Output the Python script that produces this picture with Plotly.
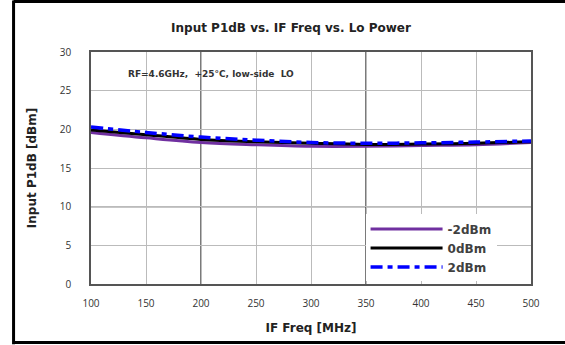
import plotly.graph_objects as go

if_freq = [100, 150, 200, 250, 300, 350, 400, 450, 500]
p1db_m2 = [19.6, 18.9, 18.3, 18.0, 17.8, 17.8, 17.9, 18.0, 18.3]
p1db_0 = [19.9, 19.3, 18.7, 18.4, 18.2, 18.05, 18.1, 18.2, 18.4]
p1db_2 = [20.3, 19.6, 19.0, 18.6, 18.3, 18.2, 18.25, 18.35, 18.5]
series_names = ["-2dBm", "0dBm", "2dBm"]
x_ticks = [100, 150, 200, 250, 300, 350, 400, 450, 500]
y_ticks = [0, 5, 10, 15, 20, 25, 30]
dark_x_grid = [200, 350]
dark_y_grid = [10]

fig = go.Figure()
fig.add_trace(go.Scatter(x=if_freq, y=p1db_m2, name="<b>" + series_names[0] + "</b>", mode="lines",
                         line=dict(color="#7030A0", width=3, shape="spline")))
fig.add_trace(go.Scatter(x=if_freq, y=p1db_0, name="<b>" + series_names[1] + "</b>", mode="lines",
                         line=dict(color="#000000", width=3, shape="spline")))
fig.add_trace(go.Scatter(x=if_freq, y=p1db_2, name="<b>" + series_names[2] + "</b>", mode="lines",
                         line=dict(color="#0000FF", width=3.5, dash="12px,5px,5px,5px", shape="spline")))

for xv in dark_x_grid:
    fig.add_shape(type="line", xref="x", yref="paper", x0=xv, x1=xv, y0=0, y1=1,
                  line=dict(color="#222222", width=1.2), layer="below")
for yv in dark_y_grid:
    fig.add_shape(type="line", xref="paper", yref="y", x0=0, x1=1, y0=yv, y1=yv,
                  line=dict(color="#222222", width=1.2), layer="below")

# outer black frame (left, top, bottom edges)
frame = dict(color="black", width=3)
fig.add_shape(type="line", xref="paper", yref="paper", x0=-0.176, x1=-0.176, y0=-0.26, y1=1.222, line=frame)
fig.add_shape(type="line", xref="paper", yref="paper", x0=-0.176, x1=1.1, y0=1.218, y1=1.218, line=frame)
fig.add_shape(type="line", xref="paper", yref="paper", x0=-0.176, x1=1.1, y0=-0.252, y1=-0.252, line=frame)

fig.add_annotation(text="<b>RF=4.6GHz,  +25°C, low-side  LO</b>", xref="paper", yref="paper",
                   x=0.08, y=0.905, xanchor="left", yanchor="middle", showarrow=False,
                   font=dict(family="DejaVu Sans", size=9, color="#333333"))

fig.update_layout(
    width=565, height=345,
    margin=dict(l=91, r=34, t=52, b=61),
    paper_bgcolor="white", plot_bgcolor="white",
    title=dict(text="<b>Input P1dB vs. IF Freq vs. Lo Power</b>", x=0.515, xanchor="center",
               y=0.92, yanchor="middle",
               font=dict(family="DejaVu Sans", size=12, color="#222222")),
    xaxis=dict(range=[100, 500], tickvals=x_ticks, showgrid=True, gridcolor="#BBBBBB", gridwidth=1,
               showline=True, linecolor="#555555", linewidth=1.5, mirror=True, zeroline=False,
               ticks="outside", ticklen=9, tickcolor="rgba(0,0,0,0)",
               tickfont=dict(family="Open Sans", size=10, color="#333333"),
               title=dict(text="<b>IF Freq [MHz]</b>", standoff=15,
                          font=dict(family="DejaVu Sans", size=12, color="#222222"))),
    yaxis=dict(range=[0, 30], tickvals=y_ticks, showgrid=True, gridcolor="#BBBBBB", gridwidth=1,
               showline=True, linecolor="#555555", linewidth=1.5, mirror=True, zeroline=False,
               ticks="outside", ticklen=16, tickcolor="rgba(0,0,0,0)",
               tickfont=dict(family="Open Sans", size=10, color="#333333"),
               title=dict(text="<b>Input P1dB [dBm]</b>", standoff=21,
                          font=dict(family="DejaVu Sans", size=12, color="#222222"))),
    legend=dict(x=0.624, y=0.30, xanchor="left", yanchor="top", bgcolor="rgba(255,255,255,1)",
                borderwidth=0, itemwidth=72, tracegroupgap=0,
                font=dict(family="DejaVu Sans", size=12, color="#404040")),
)

fig.write_html("out.html", config={"displayModeBar": False},
               post_script="document.body.style.margin='0';document.body.style.padding='0';")
